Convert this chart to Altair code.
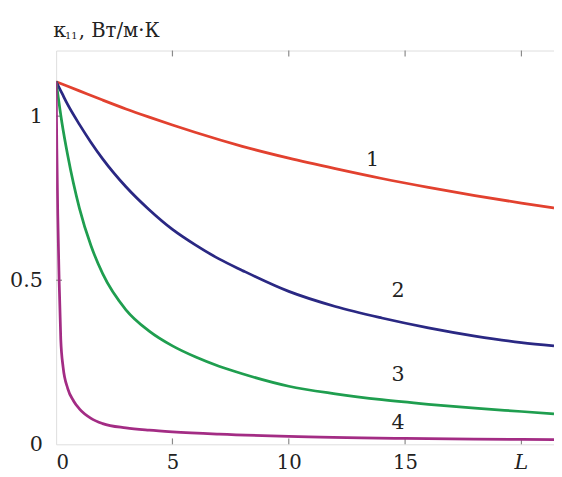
import altair as alt
import pandas as pd

# ---- data ----
L1 = [0, 0.5, 1, 2, 3, 4, 5, 6, 8, 10, 12, 14, 16, 18, 20, 21.4]
K1 = [1.105, 1.091, 1.077, 1.049, 1.022, 0.997, 0.973, 0.95, 0.908, 0.872, 0.84, 0.81, 0.783, 0.758, 0.735, 0.72]

L2 = [0, 0.25, 0.5, 1, 1.5, 2, 3, 4, 5, 6, 7, 8, 10, 12, 14, 16, 18, 20, 21.4]
K2 = [1.105, 1.07, 1.035, 0.975, 0.92, 0.87, 0.785, 0.715, 0.655, 0.607, 0.565, 0.53, 0.466, 0.42, 0.385, 0.355, 0.33, 0.31, 0.30]

L3 = [0, 0.25, 0.5, 1, 1.5, 2, 3, 4, 5, 6, 7, 8, 10, 12, 14, 16, 18, 20, 21.4]
K3 = [1.105, 0.98, 0.88, 0.72, 0.605, 0.52, 0.41, 0.345, 0.3, 0.266, 0.238, 0.215, 0.177, 0.154, 0.136, 0.122, 0.11, 0.1, 0.093]

L4 = [0, 0.03, 0.07, 0.13, 0.2, 0.3, 0.5, 0.75, 1, 1.5, 2, 3, 4, 5, 7, 10, 15, 20, 21.4]
K4 = [1.105, 0.9, 0.7, 0.5, 0.32, 0.235, 0.17, 0.132, 0.108, 0.079, 0.063, 0.05, 0.043, 0.038, 0.031, 0.024, 0.018, 0.015, 0.014]

SERIES = ["1", "2", "3", "4"]
COLORS = ["#e2412f", "#2a2883", "#1f9e4f", "#a32c84"]

LABEL_X = [13.6, 14.7, 14.7, 14.7]
LABEL_Y = [0.865, 0.467, 0.212, 0.066]

X_TICKS = [0, 5, 10, 15, 20]
Y_TICKS = [0, 0.5, 1]
X_INNER_TICKS = [5, 10, 15, 20]
Y_INNER_TICKS = [0.5, 1]

# ---- build tables ----
rows = []
for name, xs, ys in zip(SERIES, [L1, L2, L3, L4], [K1, K2, K3, K4]):
    for i, (a, b) in enumerate(zip(xs, ys)):
        rows.append({"s": name, "L": a, "k": b, "o": i})
curves = pd.DataFrame(rows)
labels = pd.DataFrame({"s": SERIES, "L": LABEL_X, "k": LABEL_Y})
xt = pd.DataFrame({"t": X_INNER_TICKS})
yt = pd.DataFrame({"t": Y_INNER_TICKS})

W, H = 507, 401
SERIF = "DejaVu Serif"
GRAY = "#8a8a8a"
INK = "#222222"

xscale = alt.Scale(domain=[0, 21.4], nice=False, zero=False)
yscale = alt.Scale(domain=[0, 1.2], nice=False)

xaxis = alt.Axis(values=X_TICKS, labelExpr="datum.value == 20 ? '' : datum.label",
                 title=None, grid=False, ticks=False, domain=False,
                 labelFont=SERIF, labelFontSize=20, labelColor=INK,
                 labelPadding=9, labelBaseline="top")
yaxis = alt.Axis(values=Y_TICKS, format="~g", title=None, grid=False, ticks=False,
                 domain=False, labelFont=SERIF, labelFontSize=21, labelColor=INK,
                 labelPadding=14)

lines = alt.Chart(curves).mark_line(strokeWidth=2.8, clip=True, interpolate="monotone").encode(
    x=alt.X("L:Q", scale=xscale, axis=xaxis),
    y=alt.Y("k:Q", scale=yscale, axis=yaxis),
    color=alt.Color("s:N", scale=alt.Scale(domain=SERIES, range=COLORS), legend=None),
    order="o:Q",
)

curve_labels = alt.Chart(labels).mark_text(font=SERIF, fontSize=21, color=INK,
                                           baseline="middle", align="center").encode(
    x=alt.X("L:Q", scale=xscale), y=alt.Y("k:Q", scale=yscale), text="s:N")

bottom_ticks = alt.Chart(xt).mark_rule(color=GRAY, strokeWidth=1.2).encode(
    x=alt.X("t:Q", scale=xscale), y=alt.value(H), y2=alt.value(H - 6))
top_ticks = alt.Chart(xt).mark_rule(color=GRAY, strokeWidth=1.2).encode(
    x=alt.X("t:Q", scale=xscale), y=alt.value(0), y2=alt.value(6))
left_ticks = alt.Chart(yt).mark_rule(color=GRAY, strokeWidth=1.2).encode(
    y=alt.Y("t:Q", scale=yscale), x=alt.value(0), x2=alt.value(6))

title_df = pd.DataFrame({"a": [0]})
t_kappa = alt.Chart(title_df).mark_text(font=SERIF, fontSize=21, color=INK,
                                        align="left", baseline="alphabetic").encode(
    x=alt.value(-3), y=alt.value(-14), text=alt.value("κ"))
t_sub = alt.Chart(title_df).mark_text(font=SERIF, fontSize=10, color=INK,
                                      align="left", baseline="alphabetic").encode(
    x=alt.value(9), y=alt.value(-12), text=alt.value("11"))
t_rest = alt.Chart(title_df).mark_text(font=SERIF, fontSize=20, color=INK,
                                       align="left", baseline="alphabetic").encode(
    x=alt.value(23), y=alt.value(-14), text=alt.value(", Вт/м·К"))
t_L = alt.Chart(title_df).transform_calculate(a="20").mark_text(
    font=SERIF, fontSize=21, fontStyle="italic", color=INK,
    align="center", baseline="top").encode(
    x=alt.X("a:Q", scale=xscale), y=alt.value(H + 8), text=alt.value("L"))

chart = alt.layer(
    bottom_ticks, top_ticks, left_ticks, lines, curve_labels, t_kappa, t_sub, t_rest, t_L
).properties(
    width=W, height=H,
    autosize=alt.AutoSizeParams(type="none"),
    padding={"left": 49, "top": 39, "right": 0, "bottom": 30},
).configure_view(
    stroke=GRAY, strokeWidth=1.5
).configure(background="white")

chart.save("out.html", embed_options={"renderer": "svg", "actions": False})
